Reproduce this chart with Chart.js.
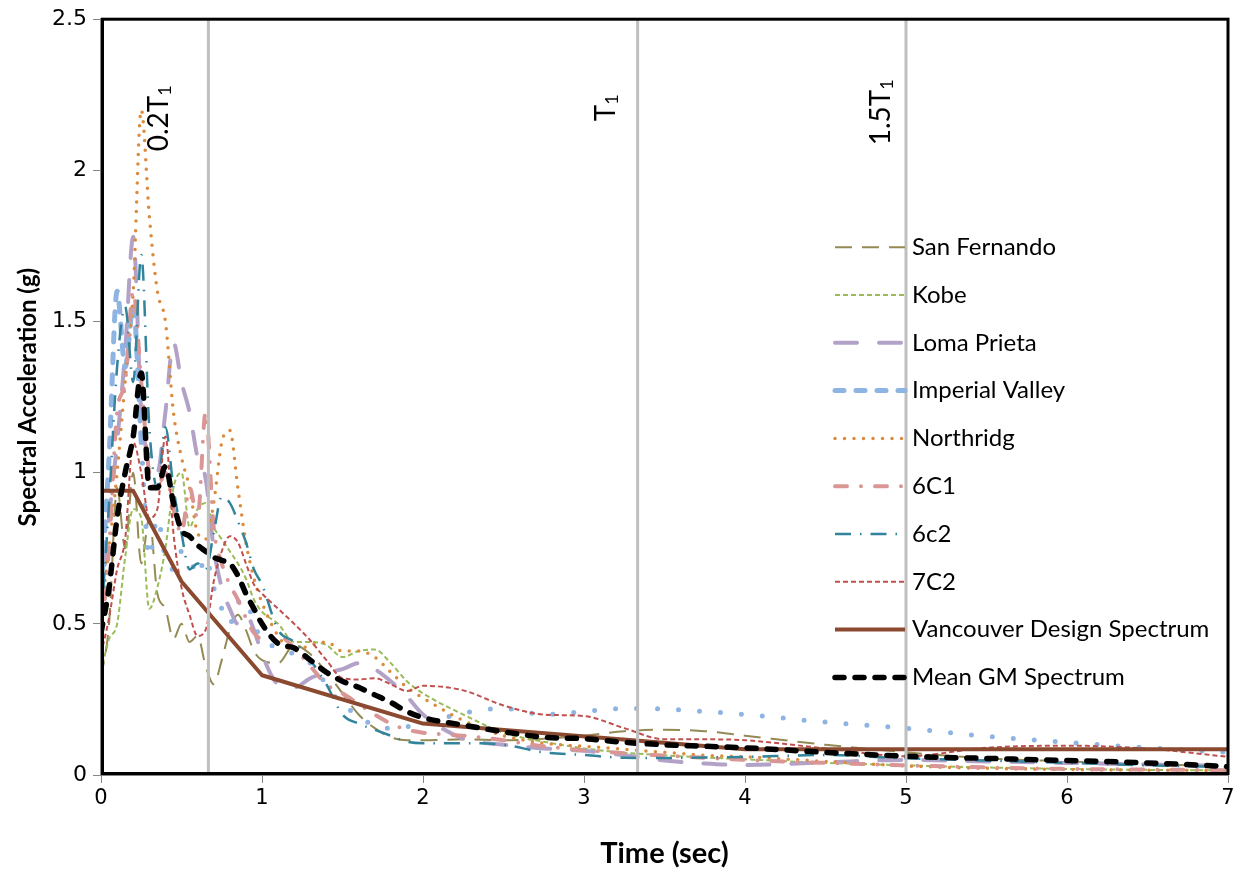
<!DOCTYPE html>
<html>
<head>
<meta charset="utf-8">
<title>Spectral Acceleration</title>
<script src="https://cdn.jsdelivr.net/npm/chart.js@4.4.0/dist/chart.umd.min.js"></script>
<style>
  html, body { margin: 0; padding: 0; background: #fff; }
  canvas { display: block; }
</style>
</head>
<body>
<canvas id="spectraChart" width="1242" height="871"></canvas>
<script>
// periods (sec) shared by the ground motion spectra
const periods = [
  0, 0.05, 0.1, 0.15, 0.2, 0.25, 0.3, 0.35, 0.4, 0.45, 0.5, 0.55, 0.6, 0.65, 0.7, 0.75, 0.8, 0.85, 0.9, 0.95, 1.0,
  1.1, 1.2, 1.3, 1.4, 1.5, 1.6, 1.7, 1.8, 1.9, 2.0,
  2.25, 2.5, 2.75, 3.0, 3.25, 3.5, 3.75, 4.0,
  4.5, 5.0, 5.5, 6.0, 6.5, 7.0
];

const sanFernando = [
  0.32, 0.5, 0.95, 0.75, 1.0, 0.7, 0.85, 0.6, 0.55, 0.45, 0.5, 0.44, 0.46, 0.36, 0.3, 0.38, 0.48, 0.53, 0.48, 0.41, 0.38,
  0.37, 0.43, 0.4, 0.34, 0.27, 0.2, 0.155, 0.125, 0.115, 0.115,
  0.118, 0.115, 0.12, 0.13, 0.145, 0.15, 0.145, 0.13,
  0.1, 0.075, 0.055, 0.045, 0.035, 0.03
];
const kobe = [
  0.34, 0.45, 0.5, 0.72, 0.88, 0.85, 0.55, 0.62, 0.75, 0.95, 1.0, 0.82, 0.88, 0.9, 0.82, 0.78, 0.74, 0.7, 0.65, 0.58, 0.54,
  0.5, 0.44, 0.44, 0.43, 0.39, 0.41, 0.415, 0.37, 0.31, 0.27,
  0.2, 0.14, 0.11, 0.088, 0.074, 0.065, 0.058, 0.052,
  0.04, 0.032, 0.025, 0.02, 0.017, 0.015
];
const lomaPrieta = [
  0.55, 0.85, 1.1, 1.4, 1.78, 1.2, 1.05, 1.0, 1.2, 1.43, 1.3, 1.2, 1.05, 0.98, 0.75, 0.62, 0.55, 0.5, 0.53, 0.48, 0.4,
  0.3, 0.29, 0.32, 0.34, 0.35, 0.37, 0.35, 0.31, 0.26, 0.2,
  0.12, 0.1, 0.088, 0.08, 0.065, 0.048, 0.038, 0.033,
  0.042, 0.05, 0.045, 0.04, 0.035, 0.03
];
const imperialValley = [
  0.6, 1.05, 1.6, 1.35, 1.55, 1.1, 0.72, 0.85, 0.72, 0.68, 0.74, 0.72, 0.66, 0.72, 0.62, 0.55, 0.5, 0.57, 0.58, 0.5, 0.45,
  0.42, 0.4, 0.37, 0.3, 0.23, 0.2, 0.16, 0.155, 0.16, 0.17,
  0.205, 0.22, 0.2, 0.21, 0.22, 0.218, 0.21, 0.2,
  0.175, 0.155, 0.128, 0.108, 0.09, 0.075
];
const northridge = [
  0.55, 0.75, 1.0, 1.3, 1.6, 2.2, 1.85, 1.6, 1.5, 1.2, 1.05, 0.95, 0.8, 0.78, 0.9, 1.1, 1.14, 0.95, 0.77, 0.65, 0.57,
  0.46, 0.41, 0.43, 0.44, 0.41, 0.41, 0.39, 0.34, 0.29, 0.255,
  0.18, 0.13, 0.105, 0.095, 0.085, 0.075, 0.065, 0.06,
  0.045, 0.03, 0.022, 0.018, 0.016, 0.015
];
const gm6C1 = [
  0.45, 0.75, 1.2, 1.3, 1.6, 1.3, 1.0, 0.95, 1.0, 0.88, 0.8, 0.95, 0.85, 1.2, 0.82, 0.7, 0.63, 0.58, 0.52, 0.47, 0.45,
  0.46, 0.42, 0.36, 0.3, 0.27, 0.235, 0.2, 0.17, 0.15, 0.14,
  0.13, 0.115, 0.095, 0.082, 0.072, 0.064, 0.057, 0.05,
  0.04, 0.032, 0.025, 0.02, 0.018, 0.016
];
const gm6c2 = [
  0.5, 0.9, 1.35, 1.55, 1.3, 1.72, 1.15, 0.95, 1.15, 0.95, 0.8, 0.68, 0.7, 0.68, 0.8, 0.92, 0.9, 0.84, 0.77, 0.68, 0.63,
  0.48, 0.44, 0.38, 0.3, 0.2, 0.17, 0.15, 0.13, 0.11, 0.105,
  0.105, 0.1, 0.075, 0.066, 0.057, 0.056, 0.058, 0.06,
  0.066, 0.055, 0.048, 0.04, 0.032, 0.026
];
const gm7C2 = [
  0.4, 0.52, 0.68, 0.78, 1.1, 1.0, 0.85, 0.88, 1.12, 0.8, 0.62, 0.53, 0.46, 0.48, 0.64, 0.74, 0.79, 0.77, 0.7, 0.63, 0.6,
  0.55, 0.5, 0.445, 0.38, 0.32, 0.316, 0.32, 0.3, 0.278, 0.295,
  0.28, 0.23, 0.2, 0.195, 0.155, 0.118, 0.118, 0.115,
  0.088, 0.062, 0.09, 0.097, 0.087, 0.06
];
const meanGM = [
  0.47, 0.62, 0.85, 1.0, 1.12, 1.33, 0.95, 0.95, 1.02, 0.9, 0.81, 0.79, 0.76, 0.74, 0.72, 0.71, 0.7, 0.66, 0.6, 0.55, 0.5,
  0.435, 0.42, 0.38, 0.34, 0.31, 0.29, 0.265, 0.24, 0.21, 0.19,
  0.165, 0.143, 0.125, 0.12, 0.108, 0.1, 0.095, 0.09,
  0.075, 0.062, 0.055, 0.048, 0.04, 0.028
];

// Vancouver design spectrum (piecewise linear)
const designPeriods = [0, 0.2, 0.5, 1.0, 2.0, 4.0, 7.0];
const designValues = [0.94, 0.94, 0.64, 0.33, 0.17, 0.085, 0.085];

// reference periods: 0.2T1, T1, 1.5T1
const markerPeriods = [0.667, 3.333, 5.0];
const markerLabels = ['0.2T', 'T', '1.5T'];

const seriesNames = ['San Fernando', 'Kobe', 'Loma Prieta', 'Imperial Valley', 'Northridg',
  '6C1', '6c2', '7C2', 'Vancouver Design Spectrum', 'Mean GM Spectrum'];

const xTicks = [0, 1, 2, 3, 4, 5, 6, 7];
const yTicks = [0, 0.5, 1, 1.5, 2, 2.5];

const toPoints = (xs, ys) => xs.map((t, i) => ({x: t, y: ys[i]}));

const styles = [
  {color: '#948A54', width: 2, dash: [17, 10], cap: 'butt'},
  {color: '#9BBB59', width: 2, dash: [5, 3], cap: 'butt'},
  {color: '#B3A2C7', width: 4, dash: [22, 22], cap: 'round'},
  {color: '#8DB4E2', width: 5, dash: [9, 12], cap: 'round'},
  {color: '#DC8A3C', width: 3.5, dash: [0, 9.5], cap: 'round'},
  {color: '#D99694', width: 4, dash: [12, 14, 0, 14], cap: 'round'},
  {color: '#31849B', width: 2.5, dash: [16, 9, 1.5, 9], cap: 'butt'},
  {color: '#C0504D', width: 2, dash: [5, 3], cap: 'butt'},
  {color: '#8B4A30', width: 4, dash: [], cap: 'butt'},
  {color: '#000000', width: 5.5, dash: [9, 11], cap: 'round'}
];

const seriesValues = [sanFernando, kobe, lomaPrieta, imperialValley, northridge, gm6C1, gm6c2, gm7C2, null, meanGM];

const datasets = seriesNames.map((name, i) => {
  const s = styles[i];
  const isDesign = i === 8;
  const ds = {
    label: name,
    data: isDesign ? toPoints(designPeriods, designValues) : toPoints(periods, seriesValues[i]),
    borderColor: s.color,
    borderWidth: s.width,
    borderDash: s.dash,
    borderCapStyle: s.cap,
    borderJoinStyle: 'round',
    pointRadius: 0,
    fill: false,
    tension: isDesign ? 0 : 0.4,
    cubicInterpolationMode: isDesign ? 'default' : 'monotone',
    order: 20 - i
  };
  if (name === 'Imperial Valley') {
    // long period part renders as sparse dots
    ds.segment = { borderDash: c => c.p0.parsed.x >= 0.25 ? [0, 21] : undefined };
  }
  return ds;
});

markerPeriods.forEach((p, i) => {
  datasets.push({
    label: 'marker' + i,
    data: [{x: p, y: yTicks[0]}, {x: p, y: yTicks[yTicks.length - 1]}],
    borderColor: '#BFBFBF',
    borderWidth: 3,
    pointRadius: 0,
    tension: 0,
    order: -1
  });
});

const markerText = {
  id: 'markerText',
  afterDatasetsDraw(chart) {
    const {ctx, chartArea: a, scales: {x}} = chart;
    const shift = [-40, -23, -16];
    const endY = [66, 75, 60];
    ctx.save();
    // plot frame
    ctx.strokeStyle = '#000';
    ctx.lineWidth = 3;
    ctx.strokeRect(a.left + 1.5, a.top, a.right - a.left - 1.5, a.bottom - a.top - 1.5);
    ctx.fillStyle = '#000';
    markerPeriods.forEach((p, i) => {
      ctx.save();
      ctx.translate(x.getPixelForValue(p) + shift[i], a.top + endY[i]);
      ctx.rotate(-Math.PI / 2);
      ctx.textAlign = 'left';
      ctx.textBaseline = 'alphabetic';
      ctx.font = '28px Lato';
      const wMain = ctx.measureText(markerLabels[i]).width;
      ctx.font = '18px Lato';
      const wSub = ctx.measureText('1').width;
      ctx.font = '28px Lato';
      ctx.fillText(markerLabels[i], -(wMain + wSub), 0);
      ctx.font = '18px Lato';
      ctx.fillText('1', -wSub, 3);
      ctx.restore();
    });
    ctx.restore();
  }
};

const insideLegend = {
  id: 'insideLegend',
  afterDraw(chart) {
    const {ctx, chartArea: a} = chart;
    const x0 = a.right - 393, x1 = a.right - 323, tx = a.right - 316;
    ctx.save();
    ctx.font = '24px Lato';
    ctx.textBaseline = 'middle';
    ctx.textAlign = 'left';
    seriesNames.forEach((name, i) => {
      const ds = chart.data.datasets[i];
      const y = a.top + 228 + i * 47.8;
      ctx.beginPath();
      ctx.strokeStyle = ds.borderColor;
      ctx.lineWidth = ds.borderWidth;
      ctx.lineCap = ds.borderCapStyle;
      ctx.setLineDash(ds.borderDash);
      ctx.moveTo(x0, y);
      ctx.lineTo(x1, y);
      ctx.stroke();
      ctx.setLineDash([]);
      ctx.fillStyle = '#000';
      ctx.fillText(name, tx, y);
    });
    ctx.restore();
  }
};

const ctx = document.getElementById('spectraChart');
new Chart(ctx, {
  type: 'line',
  data: { datasets },
  plugins: [markerText, insideLegend],
  options: {
    responsive: false,
    animation: false,
    layout: { padding: {left: 0, top: 17, right: 14, bottom: 0} },
    plugins: {
      legend: { display: false },
      tooltip: { enabled: false }
    },
    scales: {
      x: {
        type: 'linear',
        min: xTicks[0],
        max: xTicks[xTicks.length - 1],
        afterBuildTicks: s => { s.ticks = xTicks.map(v => ({value: v})); },
        afterFit: s => { s.height = 96; },
        ticks: { font: {family: 'DejaVu Sans', size: 21}, color: '#000', padding: 3, callback: v => String(v) },
        grid: { drawOnChartArea: false, drawTicks: true, tickLength: 8, color: '#868686' },
        border: { color: '#868686', width: 2 },
        title: {
          display: true,
          text: 'Time (sec)',
          font: {family: 'Lato', size: 29, weight: 'bold'},
          color: '#000',
          padding: {top: 2, bottom: 0}
        }
      },
      y: {
        type: 'linear',
        min: yTicks[0],
        max: yTicks[yTicks.length - 1],
        afterBuildTicks: s => { s.ticks = yTicks.map(v => ({value: v})); },
        afterFit: s => { s.width = 101; },
        ticks: { font: {family: 'DejaVu Sans', size: 22}, color: '#000', padding: 6, callback: v => String(v) },
        grid: { drawOnChartArea: false, drawTicks: true, tickLength: 8, color: '#868686' },
        border: { color: '#868686', width: 2 },
        title: {
          display: true,
          text: 'Spectral Acceleration (g)',
          font: {family: 'Lato', size: 24, weight: 'bold'},
          color: '#000',
          padding: {top: 14, bottom: 0}
        }
      }
    }
  }
});
</script>
</body>
</html>
